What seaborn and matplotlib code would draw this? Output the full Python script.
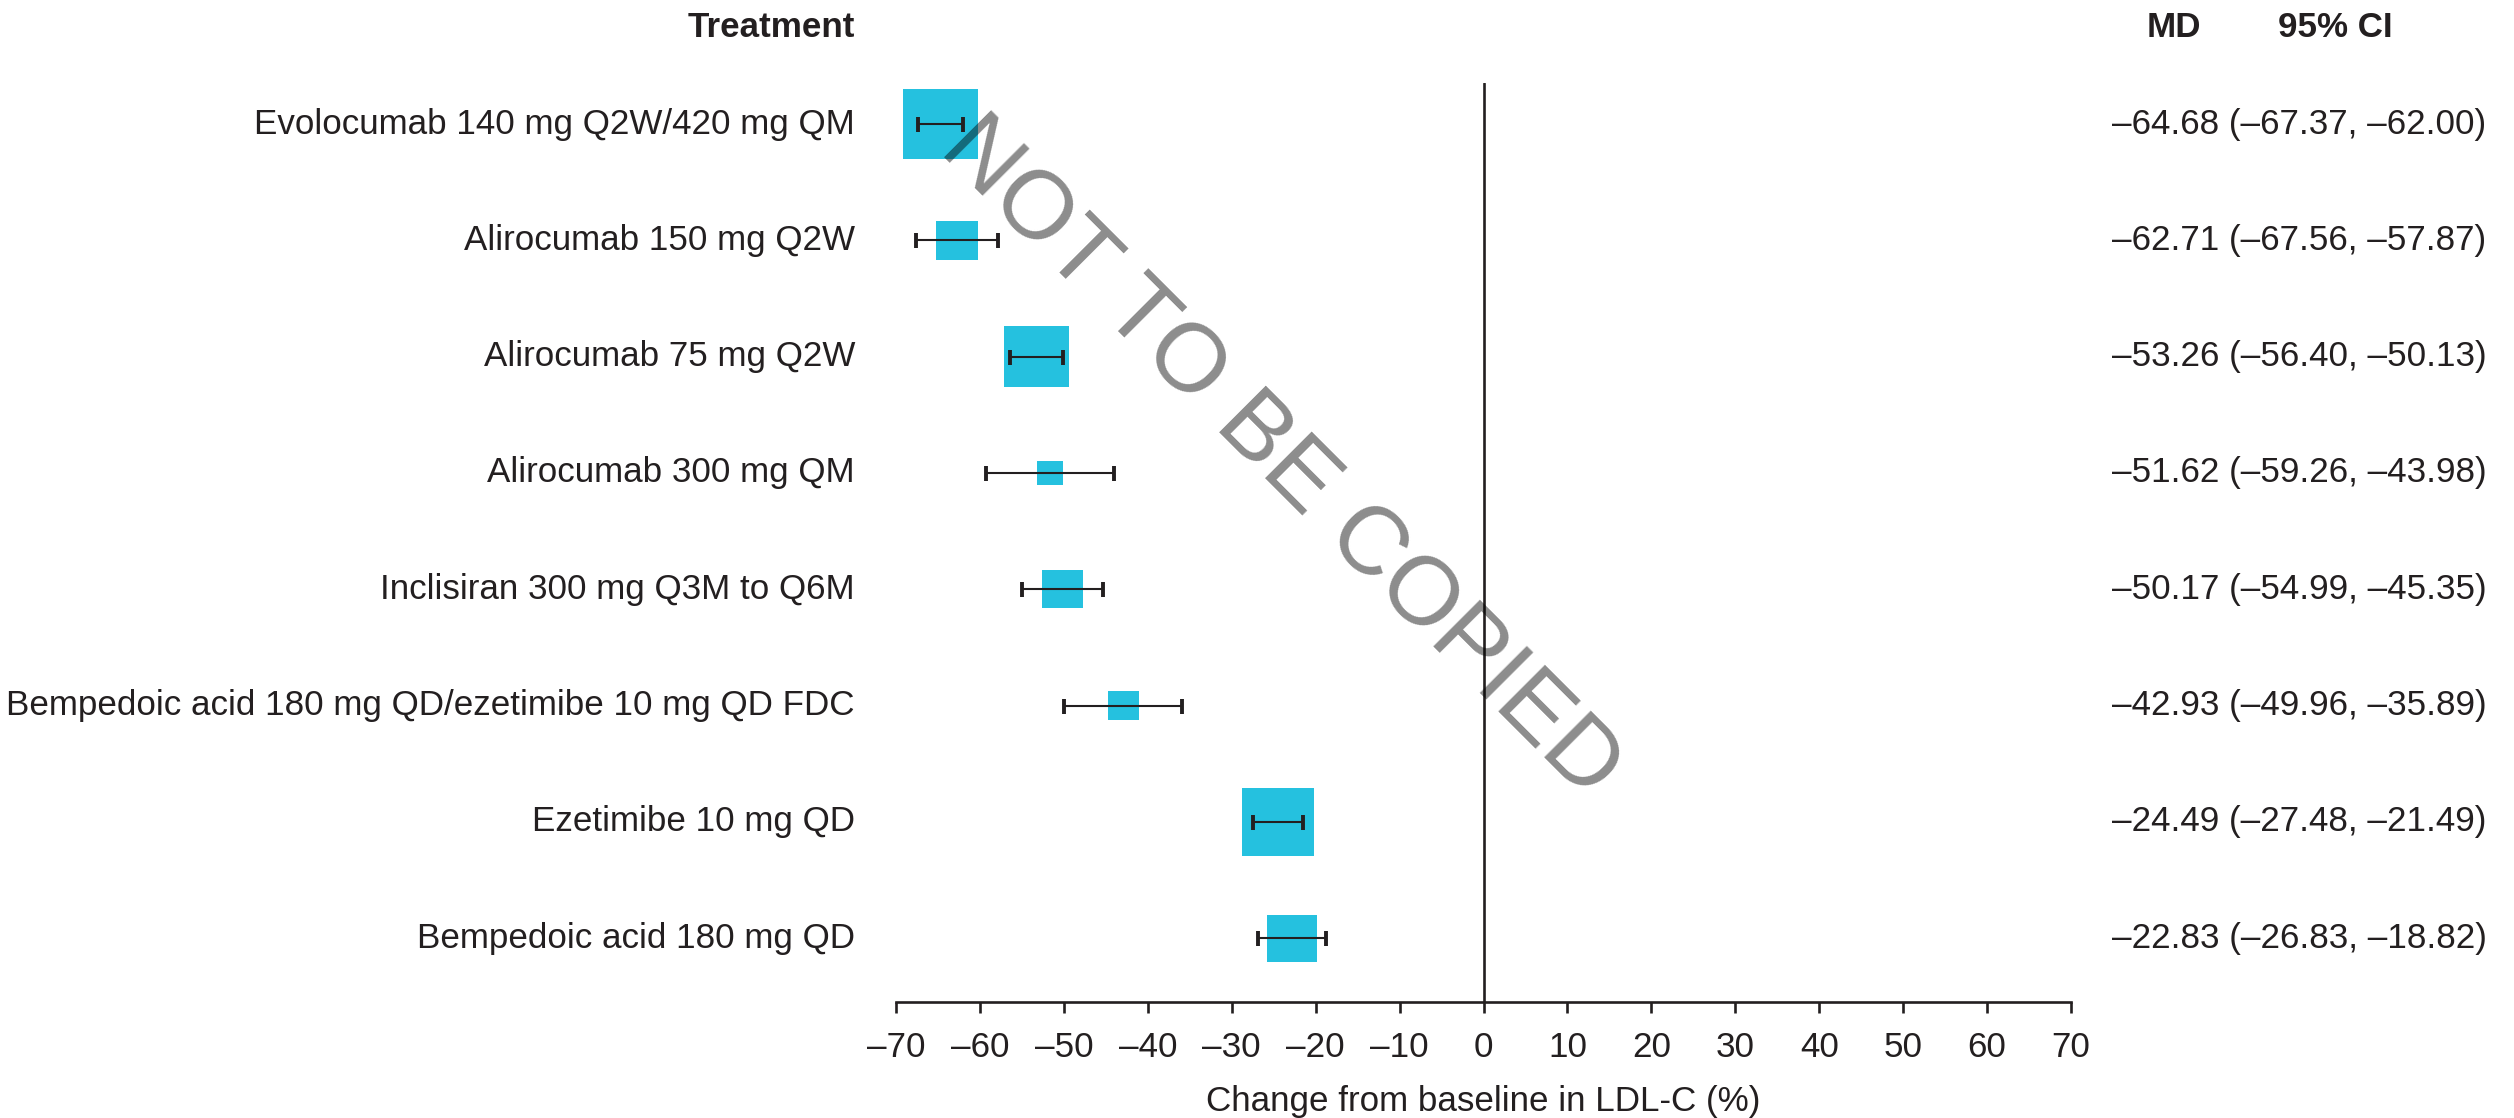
import numpy as np
import pandas as pd
import matplotlib
matplotlib.use("Agg")
import matplotlib.pyplot as plt
import matplotlib.transforms as mtransforms
from matplotlib.path import Path
import seaborn as sns

# ---- data -------------------------------------------------------------
treatments = [
    "Evolocumab 140 mg Q2W/420 mg QM",
    "Alirocumab 150 mg Q2W",
    "Alirocumab 75 mg Q2W",
    "Alirocumab 300 mg QM",
    "Inclisiran 300 mg Q3M to Q6M",
    "Bempedoic acid 180 mg QD/ezetimibe 10 mg QD FDC",
    "Ezetimibe 10 mg QD",
    "Bempedoic acid 180 mg QD",
]
md = [-64.68, -62.71, -53.26, -51.62, -50.17, -42.93, -24.49, -22.83]
ci_low = [-67.37, -67.56, -56.40, -59.26, -54.99, -49.96, -27.48, -26.83]
ci_high = [-62.00, -57.87, -50.13, -43.98, -45.35, -35.89, -21.49, -18.82]
# relative study weight (box size)
weight = [1.00, 0.56, 0.87, 0.35, 0.55, 0.41, 0.97, 0.67]

x_ticks = [-70, -60, -50, -40, -30, -20, -10, 0, 10, 20, 30, 40, 50, 60, 70]
x_label = "Change from baseline in LDL-C (%)"
header_left = "Treatment"
header_md = "MD"
header_ci = "95% CI"

# ---- styling ----------------------------------------------------------
sns.set_theme(style="white")
plt.rcParams["font.family"] = ["Liberation Sans", "DejaVu Sans"]
INK = "#231F20"
BOX = "#25C1DF"
FS = 25.2
DPI = 100
W_PX, H_PX = 2514, 1118

fig = plt.figure(figsize=(W_PX / DPI, H_PX / DPI), dpi=DPI)
fig.patch.set_facecolor("white")

ax_left, ax_right = 896, 2071
ax_top, ax_bottom = 83, 1002
ax = fig.add_axes([ax_left / W_PX, (H_PX - ax_bottom) / H_PX,
                   (ax_right - ax_left) / W_PX, (ax_bottom - ax_top) / H_PX])
ax.set_facecolor("none")

df = pd.DataFrame({
    "treatment": treatments,
    "row": np.arange(len(treatments), dtype=float),
    "md": md,
    "lo": ci_low,
    "hi": ci_high,
    "weight": weight,
})
# box width in points, scaled from the study weight
box_pt = df["weight"] * 75 * 72 / DPI
df["area"] = box_pt ** 2

box_marker = Path([(-1.0, -0.93), (1.0, -0.93), (1.0, 0.93), (-1.0, 0.93), (-1.0, -0.93)],
                  [Path.MOVETO, Path.LINETO, Path.LINETO, Path.LINETO, Path.CLOSEPOLY])

ax.axvline(0, color=INK, lw=1.9, zorder=1)

sns.scatterplot(data=df, x="md", y="row", size="area",
                sizes=(df["area"].min(), df["area"].max()),
                size_norm=(df["area"].min(), df["area"].max()),
                marker=box_marker, color=BOX, edgecolor="none", linewidth=0,
                legend=False, ax=ax, zorder=2)

ax.errorbar(df["md"], df["row"], xerr=[df["md"] - df["lo"], df["hi"] - df["md"]],
            fmt="none", ecolor=INK, elinewidth=1.5, capsize=5.4, capthick=2.8, zorder=3)

ax.set_xlim(-70, 70)
ax.set_ylim(7.549, -0.353)
ax.set_xticks(x_ticks)
ax.set_xticklabels([str(t).replace("-", "\u2013") for t in x_ticks])
ax.set_yticks([])
ax.set_ylabel("")
ax.set_xlabel(x_label, fontsize=FS, color=INK, labelpad=15)
ax.tick_params(axis="x", direction="out", length=8, width=1.9, pad=13,
               labelsize=FS, colors=INK, bottom=True)
for side in ("left", "top", "right"):
    ax.spines[side].set_visible(False)
ax.spines["bottom"].set_color(INK)
ax.spines["bottom"].set_linewidth(1.9)

# ---- text columns -------------------------------------------------------
lab_tr = mtransforms.blended_transform_factory(fig.transFigure, ax.transData)
for _, r in df.iterrows():
    fig.text(855 / W_PX, r["row"], r["treatment"], transform=lab_tr,
             ha="right", va="center", fontsize=FS, color=INK)
    txt = f"{r['md']:.2f} ({r['lo']:.2f}, {r['hi']:.2f})".replace("-", "\u2013")
    fig.text(2112 / W_PX, r["row"], txt, transform=lab_tr,
             ha="left", va="center", fontsize=FS, color=INK)

head_y = (H_PX - 37) / H_PX
fig.text(855 / W_PX, head_y, header_left, ha="right", va="baseline",
         fontsize=FS, fontweight="bold", color=INK)
fig.text(2147 / W_PX, head_y, header_md, ha="left", va="baseline",
         fontsize=FS, fontweight="bold", color=INK)
fig.text(2278 / W_PX, head_y, header_ci, ha="left", va="baseline",
         fontsize=FS, fontweight="bold", color=INK)

# ---- watermark ------------------------------------------------------------
fig.text(1280 / W_PX, (H_PX - 458) / H_PX, "NOT TO BE COPIED", rotation=-45,
         ha="center", va="center", fontsize=70, color="black", alpha=0.45,
         zorder=10)

fig.savefig("out.png", dpi=DPI, facecolor="white")
